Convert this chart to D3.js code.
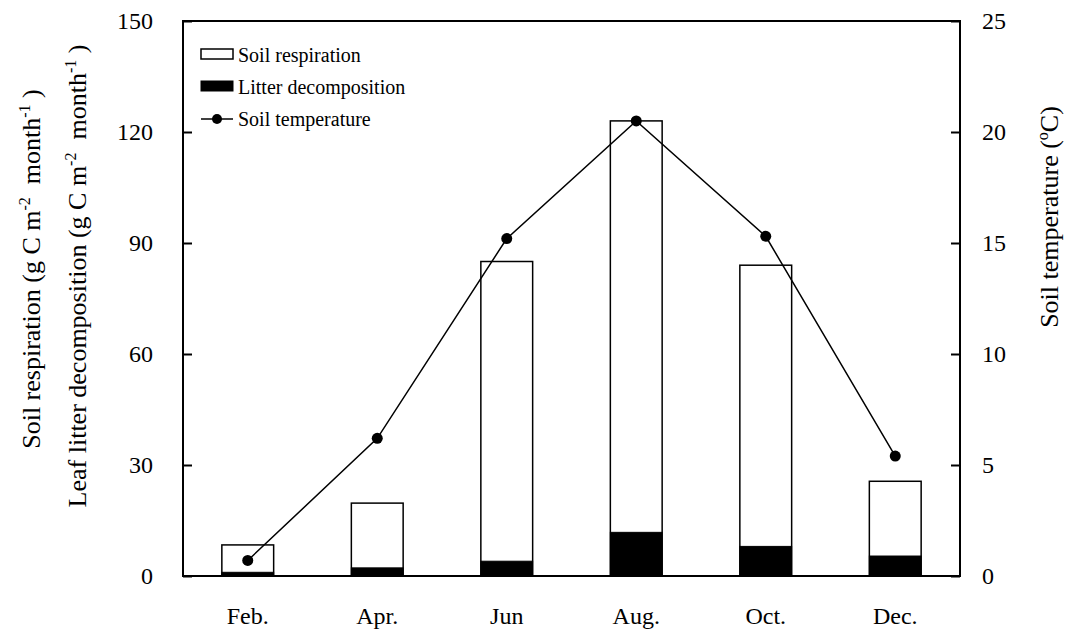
<!DOCTYPE html>
<html>
<head>
	<meta charset="UTF-8">
	<title>Soil respiration and litter decomposition</title>
	<script src="https://cdn.jsdelivr.net/npm/d3@7"></script>
	<style>
		body { margin: 0; background: #fff; }
		svg { display: block; }
		.axis text { font-size: 24px; fill: #000; }
		.axis line { stroke: #000; stroke-width: 2px; }
		.frame { fill: none; stroke: #000; stroke-width: 2px; }
		.resp { fill: #fff; stroke: #000; stroke-width: 1.5px; }
		.litter { fill: #000; stroke: #000; stroke-width: 1px; }
		.temp-line { fill: none; stroke: #000; stroke-width: 1.5px; }
		.temp-dot { fill: #000; }
		.title { font-size: 26px; fill: #000; }
		.legend text { font-size: 20px; fill: #000; }
	</style>
</head>
<body>
	<svg id="chart" width="1070" height="629"></svg>

	<script>
		// values
		const months = ['Feb.', 'Apr.', 'Jun', 'Aug.', 'Oct.', 'Dec.'];
		const soilRespiration = [8.4, 19.7, 85, 123, 84, 25.6];
		const litterDecomp = [1, 2.2, 4, 11.8, 8, 5.4];
		const soilTemp = [0.7, 6.2, 15.2, 20.5, 15.3, 5.4];
		const leftTicks = [0, 30, 60, 90, 120, 150];
		const rightTicks = [0, 5, 10, 15, 20, 25];

		const serif = '"Liberation Serif", "Times New Roman", serif';
		const svg = d3.select('#chart').style('font-family', serif);
		const plot = { left: 183, right: 960, top: 21, bottom: 576 };

		const x = d3.scaleBand()
			.domain(months)
			.range([plot.left, plot.right])
			.paddingInner(0.6)
			.paddingOuter(0.3);
		const yLeft = d3.scaleLinear().domain([0, 150]).range([plot.bottom, plot.top]);
		const yRight = d3.scaleLinear().domain([0, 25]).range([plot.bottom, plot.top]);

		// bars
		const bars = svg.append('g');
		bars.selectAll('.resp')
			.data(months)
			.enter().append('rect')
			.attr('class', 'resp')
			.attr('x', d => x(d))
			.attr('width', x.bandwidth())
			.attr('y', (d, i) => yLeft(soilRespiration[i]))
			.attr('height', (d, i) => yLeft(0) - yLeft(soilRespiration[i]));
		bars.selectAll('.litter')
			.data(months)
			.enter().append('rect')
			.attr('class', 'litter')
			.attr('x', d => x(d))
			.attr('width', x.bandwidth())
			.attr('y', (d, i) => yLeft(litterDecomp[i]))
			.attr('height', (d, i) => yLeft(0) - yLeft(litterDecomp[i]));

		// temperature line
		const cx = d => x(d) + x.bandwidth() / 2;
		const line = d3.line()
			.x(d => cx(d))
			.y((d, i) => yRight(soilTemp[i]));
		svg.append('path')
			.datum(months)
			.attr('class', 'temp-line')
			.attr('d', line);
		svg.selectAll('.temp-dot')
			.data(months)
			.enter().append('circle')
			.attr('class', 'temp-dot')
			.attr('cx', d => cx(d))
			.attr('cy', (d, i) => yRight(soilTemp[i]))
			.attr('r', 5.5);

		// frame
		svg.append('rect')
			.attr('class', 'frame')
			.attr('x', plot.left)
			.attr('y', plot.top)
			.attr('width', plot.right - plot.left)
			.attr('height', plot.bottom - plot.top);

		// axes (ticks point inward)
		const fixAxis = g => {
			g.select('.domain').remove();
			g.attr('font-family', null).attr('font-size', null);
			g.selectAll('text').style('font-family', serif);
		};
		svg.append('g')
			.attr('class', 'axis')
			.attr('transform', `translate(${plot.left},0)`)
			.call(d3.axisLeft(yLeft).tickValues(leftTicks).tickSizeInner(-9).tickSizeOuter(0).tickPadding(30))
			.call(fixAxis);
		svg.append('g')
			.attr('class', 'axis')
			.attr('transform', `translate(${plot.right},0)`)
			.call(d3.axisRight(yRight).tickValues(rightTicks).tickSizeInner(-9).tickSizeOuter(0).tickPadding(22))
			.call(fixAxis);
		svg.append('g')
			.attr('class', 'axis')
			.attr('transform', `translate(0,${plot.bottom})`)
			.call(d3.axisBottom(x).tickSize(0).tickPadding(31))
			.call(fixAxis);

		// axis titles
		function unitTitle(g, label) {
			const t = g.append('text').attr('class', 'title').attr('text-anchor', 'middle');
			t.append('tspan').text(label + ' (g C m');
			t.append('tspan').attr('dy', -10).attr('font-size', 16).text('-2');
			t.append('tspan').attr('dy', 10).text('\u00a0 month');
			t.append('tspan').attr('dy', -10).attr('font-size', 16).text('-1');
			t.append('tspan').attr('dy', 10).text('\u00a0)');
		}
		unitTitle(svg.append('g').attr('transform', 'translate(40,269) rotate(-90)'), 'Soil respiration');
		unitTitle(svg.append('g').attr('transform', 'translate(86,276) rotate(-90)'), 'Leaf litter decomposition');

		const rt = svg.append('text')
			.attr('class', 'title')
			.attr('text-anchor', 'middle')
			.attr('transform', 'translate(1058,217) rotate(-90)');
		rt.append('tspan').text('Soil temperature (');
		rt.append('tspan').attr('dy', -10).attr('font-size', 16).text('o');
		rt.append('tspan').attr('dy', 10).text('C)');

		// legend
		const legend = svg.append('g').attr('class', 'legend');
		legend.append('rect').attr('class', 'resp').attr('x', 201).attr('y', 49).attr('width', 32).attr('height', 10);
		legend.append('text').attr('x', 238).attr('y', 55).attr('dy', '0.35em').text('Soil respiration');
		legend.append('rect').attr('class', 'litter').attr('x', 201).attr('y', 81).attr('width', 32).attr('height', 10);
		legend.append('text').attr('x', 238).attr('y', 87).attr('dy', '0.35em').text('Litter decomposition');
		legend.append('line').attr('class', 'temp-line').attr('x1', 201).attr('x2', 233).attr('y1', 119).attr('y2', 119);
		legend.append('circle').attr('class', 'temp-dot').attr('cx', 217).attr('cy', 119).attr('r', 5);
		legend.append('text').attr('x', 238).attr('y', 119).attr('dy', '0.35em').text('Soil temperature');
	</script>
</body>
</html>
